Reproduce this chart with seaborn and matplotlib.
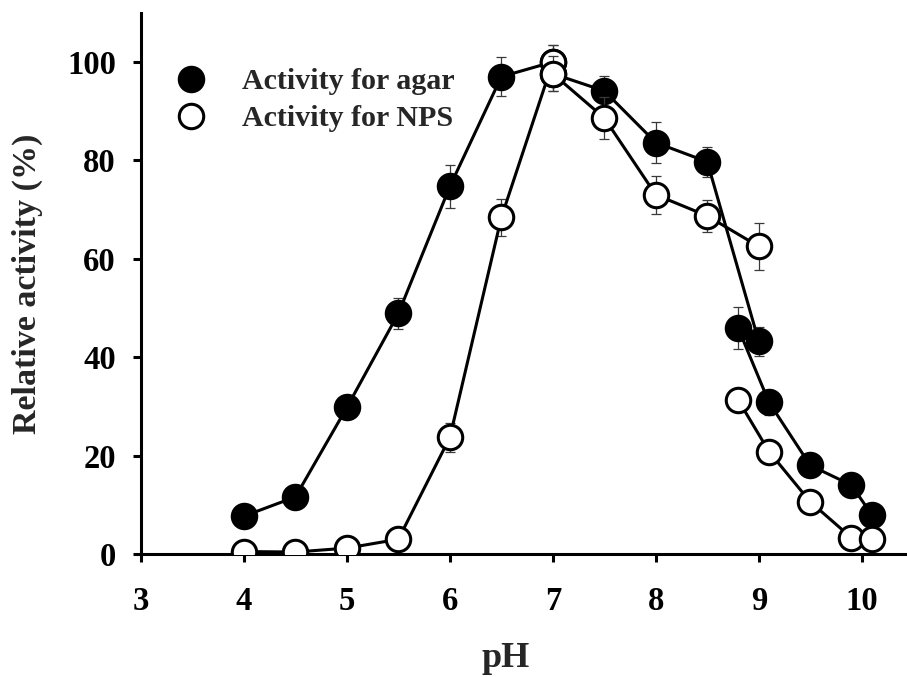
import matplotlib
matplotlib.use("Agg")
import matplotlib.pyplot as plt
from matplotlib.lines import Line2D
import seaborn as sns
import pandas as pd

# pH activity profiles; each substrate was measured in three buffer systems
# (acidic/neutral, neutral/alkaline, alkaline), drawn as separate runs.
ph_acid = [4.0, 4.5, 5.0, 5.5, 6.0, 6.5, 7.0]
ph_neutral = [7.0, 7.5, 8.0, 8.5, 9.0]
ph_alkaline = [8.8, 9.1, 9.5, 9.9, 10.1]

agar_acid = [7.7, 11.6, 29.8, 48.9, 74.7, 97.0, 100.0]
agar_acid_sd = [1.0, 1.0, 1.2, 3.2, 4.3, 3.9, 3.4]
agar_neutral = [97.6, 94.1, 83.6, 79.7, 43.2]
agar_neutral_sd = [3.5, 3.1, 4.1, 3.0, 3.0]
agar_alkaline = [45.9, 30.8, 18.0, 14.0, 7.9]
agar_alkaline_sd = [4.2, 2.5, 1.0, 1.0, 1.0]

nps_acid = [0.5, 0.4, 1.2, 3.0, 23.7, 68.4, 100.0]
nps_acid_sd = [0.3, 0.3, 0.5, 1.0, 3.0, 3.7, 3.4]
nps_neutral = [97.6, 88.6, 73.0, 68.7, 62.5]
nps_neutral_sd = [3.5, 4.3, 3.9, 3.2, 4.8]
nps_alkaline = [31.3, 20.8, 10.6, 3.3, 3.0]
nps_alkaline_sd = [1.0, 1.0, 1.0, 1.0, 1.0]

series_labels = ["Activity for agar", "Activity for NPS"]
x_ticks = [3, 4, 5, 6, 7, 8, 9, 10]
y_ticks = [0, 20, 40, 60, 80, 100]

rows = []
for sub, runs in [
    (series_labels[0], [(ph_acid, agar_acid, agar_acid_sd),
                        (ph_neutral, agar_neutral, agar_neutral_sd),
                        (ph_alkaline, agar_alkaline, agar_alkaline_sd)]),
    (series_labels[1], [(ph_acid, nps_acid, nps_acid_sd),
                        (ph_neutral, nps_neutral, nps_neutral_sd),
                        (ph_alkaline, nps_alkaline, nps_alkaline_sd)]),
]:
    for run, (xs, ys, es) in enumerate(runs):
        for x, y, e in zip(xs, ys, es):
            rows.append({"substrate": sub, "run": run, "pH": x,
                         "activity": y, "sd": e})
df = pd.DataFrame(rows)

sns.set_theme(style="ticks")
plt.rcParams["font.family"] = ["Liberation Serif", "DejaVu Serif"]
plt.rcParams["font.weight"] = "bold"

fig = plt.figure(figsize=(9.07, 6.77), dpi=100)
ax = fig.add_axes([141 / 907, 1 - 554 / 677, (906 - 141) / 907, (554 - 12.7) / 677])

face = {series_labels[0]: "black", series_labels[1]: "white"}
lw = 2.2
ms = 17.6
z = 2
for sub in series_labels:
    for run in range(3):
        d = df[(df["substrate"] == sub) & (df["run"] == run)]
        ax.errorbar(d["pH"], d["activity"], yerr=d["sd"], fmt="none",
                    ecolor="#3a3a3a", elinewidth=0.9, capsize=3.6,
                    capthick=0.9, zorder=z)
        sns.lineplot(data=d, x="pH", y="activity", ax=ax, color="black",
                     linewidth=lw, marker="o", markersize=ms,
                     markerfacecolor=face[sub], markeredgecolor="black",
                     markeredgewidth=lw, estimator=None, sort=False,
                     legend=False, zorder=z + 1)
        z += 2

ax.set_xlim(3, 10.43)
ax.set_ylim(0, 110)
ax.set_xticks(x_ticks)
ax.set_yticks(y_ticks)
sns.despine(ax=ax)
for s in ["left", "bottom"]:
    ax.spines[s].set_linewidth(2.2)
    ax.spines[s].set_color("black")
ax.tick_params(axis="both", direction="out", length=6, width=2.2,
               colors="black", labelsize=23.5)
ax.tick_params(axis="x", pad=17)
ax.tick_params(axis="y", pad=12)
for t in ax.get_xticklabels() + ax.get_yticklabels():
    t.set_fontweight("bold")

ax.set_xlabel("pH", fontsize=26, fontweight="bold")
ax.set_ylabel("Relative activity (%)", fontsize=24.5, fontweight="bold")
ax.xaxis.set_label_coords(0.476, -0.163)
ax.yaxis.set_label_coords(-0.128, 0.5)

handles = [Line2D([], [], linestyle="none", marker="o", markersize=ms,
                  markerfacecolor=face[s], markeredgecolor="black",
                  markeredgewidth=lw) for s in series_labels]
leg = ax.legend(handles, series_labels, loc="upper left",
                bbox_to_anchor=(168 / 907, 1 - 68 / 677),
                bbox_transform=fig.transFigure, frameon=False,
                borderpad=0, borderaxespad=0, handlelength=1.5,
                handletextpad=0.95, labelspacing=0.35,
                prop={"size": 21.6, "weight": "bold"})

fig.savefig("out.png", dpi=100, facecolor="white")
